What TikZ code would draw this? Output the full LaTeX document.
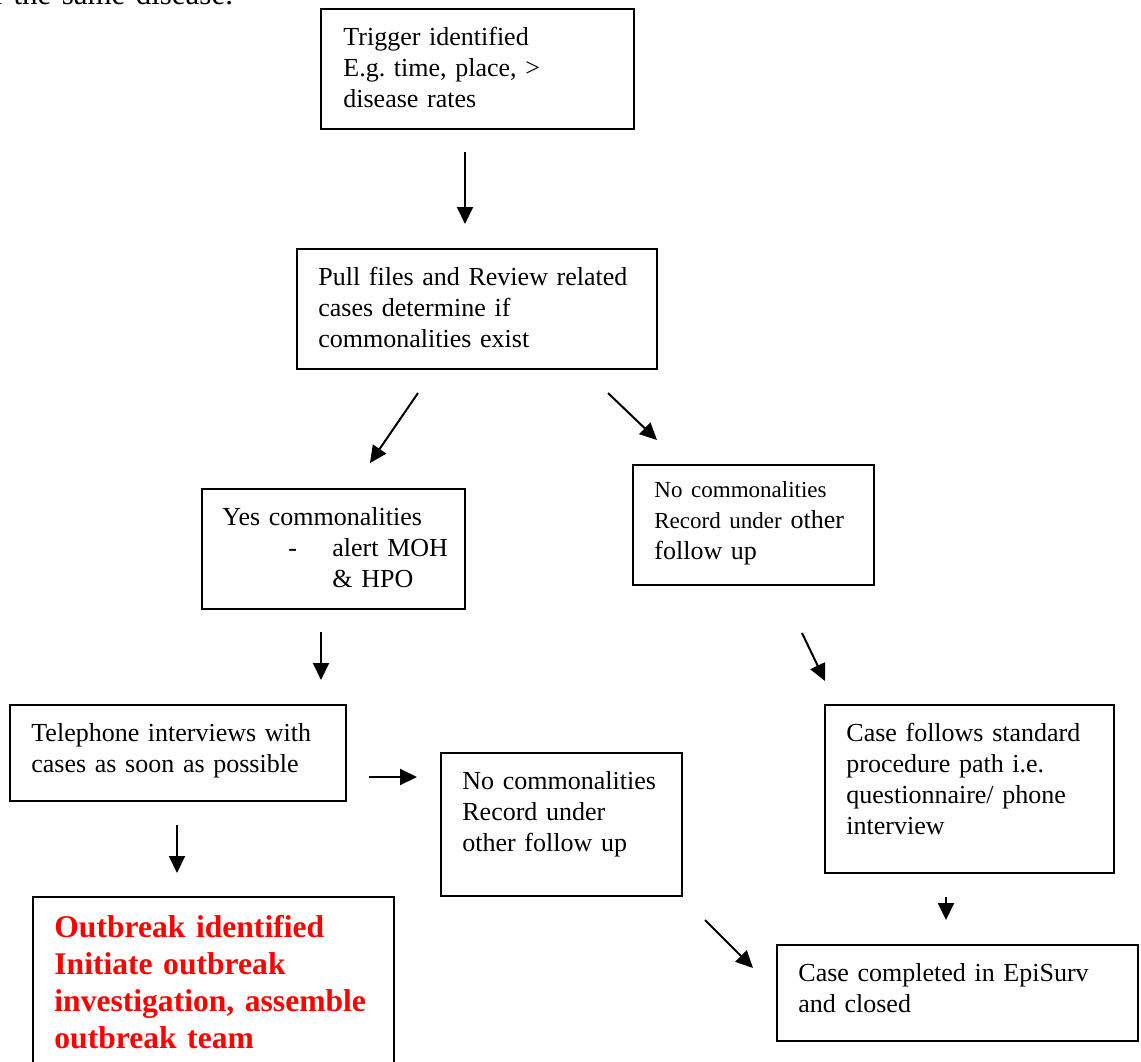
\documentclass[tikz,border=0pt]{standalone}
\usepackage{fontspec}
\setmainfont{Liberation Serif}
\usetikzlibrary{arrows.meta,fit}
\frenchspacing
\begin{document}
\begin{tikzpicture}[x=0.5pt,y=-0.5pt,
  box/.style={draw=black,line width=0.9pt,inner sep=0pt},
  txt/.style={anchor=base west,inner sep=0pt,text width=200pt,align=left,
    font=\fontsize{13}{15.5}\selectfont},
  redtxt/.style={anchor=base west,inner sep=0pt,text width=200pt,align=left,
    font=\fontsize{15.8}{18.5}\selectfont\bfseries,text=red},
  arr/.style={line width=1pt,-{Triangle[length=8.5pt,width=8pt]}}]
\useasboundingbox (0,0) rectangle (1141,1061);
% clipped text at the top
\node[txt,font=\fontsize{15.5}{18}\selectfont] (top) at (-23,4) {of the same disease.};
% boxes
\node[box,fit={(321,9) (634,129)}] (trig) {};
\node[box,fit={(297,249) (657,369)}] (pull) {};
\node[box,fit={(202,489) (465,609)}] (yes) {};
\node[box,fit={(633,465) (874,585)}] (nor) {};
\node[box,fit={(10,705) (346,801)}] (tel) {};
\node[box,fit={(441,753) (682,896)}] (nom) {};
\node[box,fit={(825,705) (1114,873)}] (cf) {};
\node[box,fit={(33,897) (394,1080)}] (ob) {};
\node[box,fit={(777,945) (1138,1041)}] (cc) {};
% texts
\node[txt] (trigT) at (343,45) {Trigger identified\\E.g. time, place, >\\disease rates};
\node[txt] (pullT) at (318,285) {Pull files and Review related\\cases determine if\\commonalities exist};
\node[txt] (yesT) at (222,525) {Yes commonalities\\\hspace*{33pt}\makebox[22pt][l]{-}alert MOH\\\hspace*{55pt}\& HPO};
\node[txt] (norT) at (654,497) {{\fontsize{11.5}{14.5}\selectfont No commonalities}\\{\fontsize{11.5}{14.5}\selectfont Record under} other\\follow up};
\node[txt] (telT) at (31,741) {Telephone interviews with\\cases as soon as possible};
\node[txt] (nomT) at (462,789) {No commonalities\\Record under\\other follow up};
\node[txt] (cfT) at (846,741) {Case follows standard\\procedure path i.e.\\questionnaire/ phone\\interview};
\node[redtxt] (obT) at (54,937) {Outbreak identified\\Initiate outbreak\\investigation, assemble\\outbreak team};
\node[txt] (ccT) at (798,981) {Case completed in EpiSurv\\and closed};
% arrow end points
\coordinate (a1s) at (465,152); \coordinate (a1e) at (465,224);
\coordinate (a2s) at (418,393); \coordinate (a2e) at (370,463);
\coordinate (a3s) at (608,393); \coordinate (a3e) at (657,440);
\coordinate (a4s) at (321,632); \coordinate (a4e) at (321,680);
\coordinate (a5s) at (802,633); \coordinate (a5e) at (825,681);
\coordinate (a6s) at (369,777); \coordinate (a6e) at (417,777);
\coordinate (a7s) at (177,825); \coordinate (a7e) at (177,873);
\coordinate (a8s) at (705,920); \coordinate (a8e) at (753,968);
\coordinate (a9s) at (946,897); \coordinate (a9e) at (946,920);
\draw[arr] (a1s) -- (a1e);
\draw[arr] (a2s) -- (a2e);
\draw[arr] (a3s) -- (a3e);
\draw[arr] (a4s) -- (a4e);
\draw[arr] (a5s) -- (a5e);
\draw[arr] (a6s) -- (a6e);
\draw[arr] (a7s) -- (a7e);
\draw[arr] (a8s) -- (a8e);
\draw[arr] (a9s) -- (a9e);
\end{tikzpicture}
\end{document}
